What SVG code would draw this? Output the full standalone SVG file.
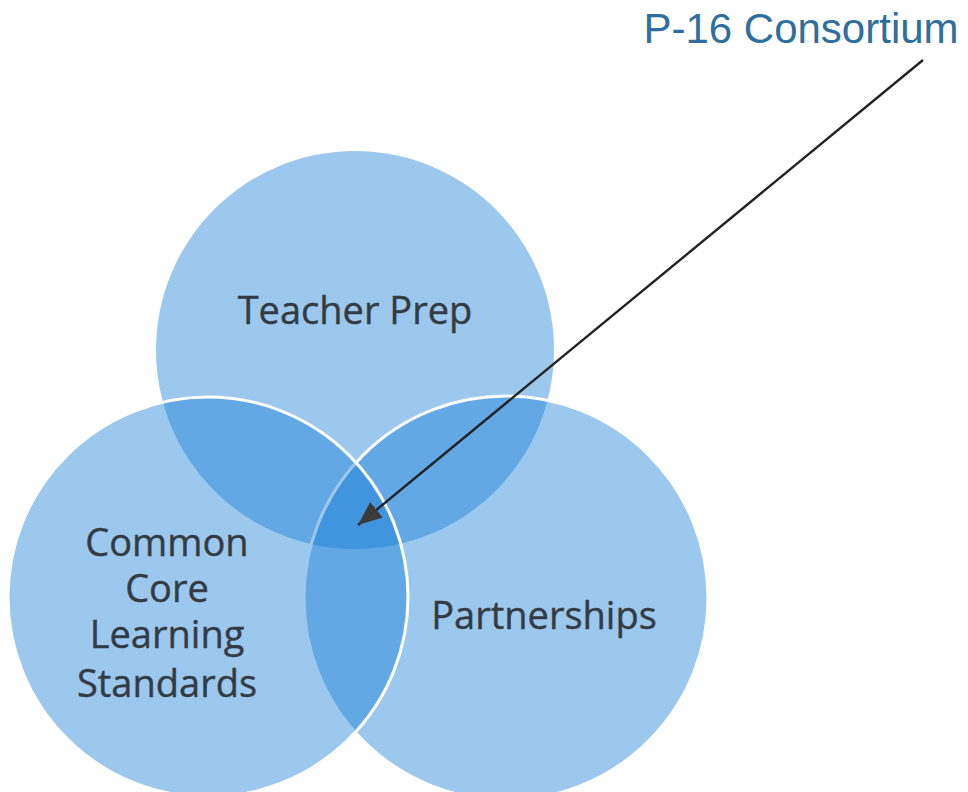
<svg xmlns="http://www.w3.org/2000/svg" width="968" height="792" viewBox="0 0 968 792">
  <style>
    .c { fill: rgb(20,125,215); fill-opacity: 0.42; stroke: #ffffff; stroke-width: 3; }
    .lbl { font-family: "Open Sans", "Noto Sans", sans-serif; font-size: 38px; fill: #333c45; stroke: #333c45; stroke-width: 0.4; text-anchor: middle; }
    .title { font-family: "Liberation Sans", Arial, sans-serif; font-size: 42px; fill: #2e6f9f; text-anchor: middle; }
  </style>
  <defs>
    <marker id="ah2" viewBox="0 0 24 20" refX="24" refY="10" markerWidth="24" markerHeight="20" markerUnits="userSpaceOnUse" orient="auto">
      <path d="M0,0 L24,10 L0,20 z" fill="#3a3a3a"/>
    </marker>
  </defs>
  <rect width="968" height="792" fill="#ffffff"/>
  <g id="teacher-prep">
    <circle class="c" cx="355" cy="350" r="199" style="stroke:none"/>
    <text class="lbl" x="355" y="324">Teacher Prep</text>
  </g>
  <g id="partnerships">
    <circle class="c" cx="506" cy="598" r="202"/>
    <text class="lbl" x="544" y="629">Partnerships</text>
  </g>
  <g id="common-core">
    <circle class="c" cx="208" cy="597" r="200"/>
    <text class="lbl" x="167" y="556">Common</text>
    <text class="lbl" x="167" y="602">Core</text>
    <text class="lbl" x="167" y="648">Learning</text>
    <text class="lbl" x="167" y="697">Standards</text>
  </g>
  <g id="p16">
    <text class="title" x="801" y="43">P-16 Consortium</text>
  </g>
  <g id="connectors">
    <line x1="923" y1="60" x2="358" y2="525" stroke="#222222" stroke-width="2.4" marker-end="url(#ah2)"/>
  </g>
</svg>
